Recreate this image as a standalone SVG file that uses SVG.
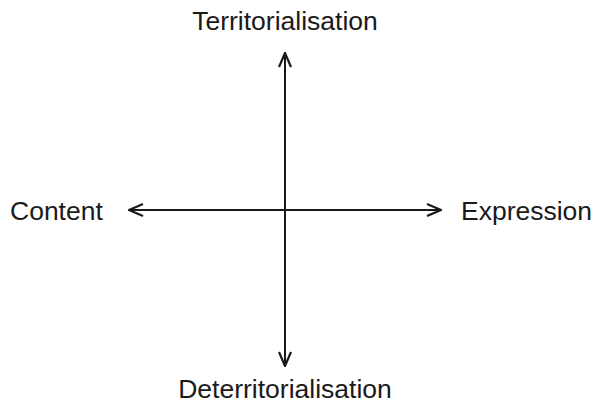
<svg xmlns="http://www.w3.org/2000/svg" width="594" height="407" viewBox="0 0 594 407">
<style>
text{font-family:"Liberation Sans",Arial,sans-serif;font-size:26.5px;fill:#1a1a1a}
.ax{stroke:#1a1a1a;stroke-width:2;fill:none}
</style>
<defs>
<marker id="ah" viewBox="0 0 16 14" refX="15" refY="7" markerWidth="16" markerHeight="14" markerUnits="userSpaceOnUse" orient="auto-start-reverse">
<path d="M1,1 L15,7 L1,13" fill="none" stroke="#1a1a1a" stroke-width="2.2"/>
</marker>
</defs>
<rect width="594" height="407" fill="#fff"/>
<g id="connectors">
<line class="ax" x1="285" y1="53" x2="285" y2="366" marker-start="url(#ah)" marker-end="url(#ah)"/>
<line class="ax" x1="129" y1="210" x2="441" y2="210" marker-start="url(#ah)" marker-end="url(#ah)"/>
</g>
<g id="territorialisation"><text x="285" y="30" text-anchor="middle">Territorialisation</text></g>
<g id="content"><text x="10" y="220">Content</text></g>
<g id="expression"><text x="461" y="220">Expression</text></g>
<g id="deterritorialisation"><text x="285" y="398" text-anchor="middle">Deterritorialisation</text></g>
</svg>
